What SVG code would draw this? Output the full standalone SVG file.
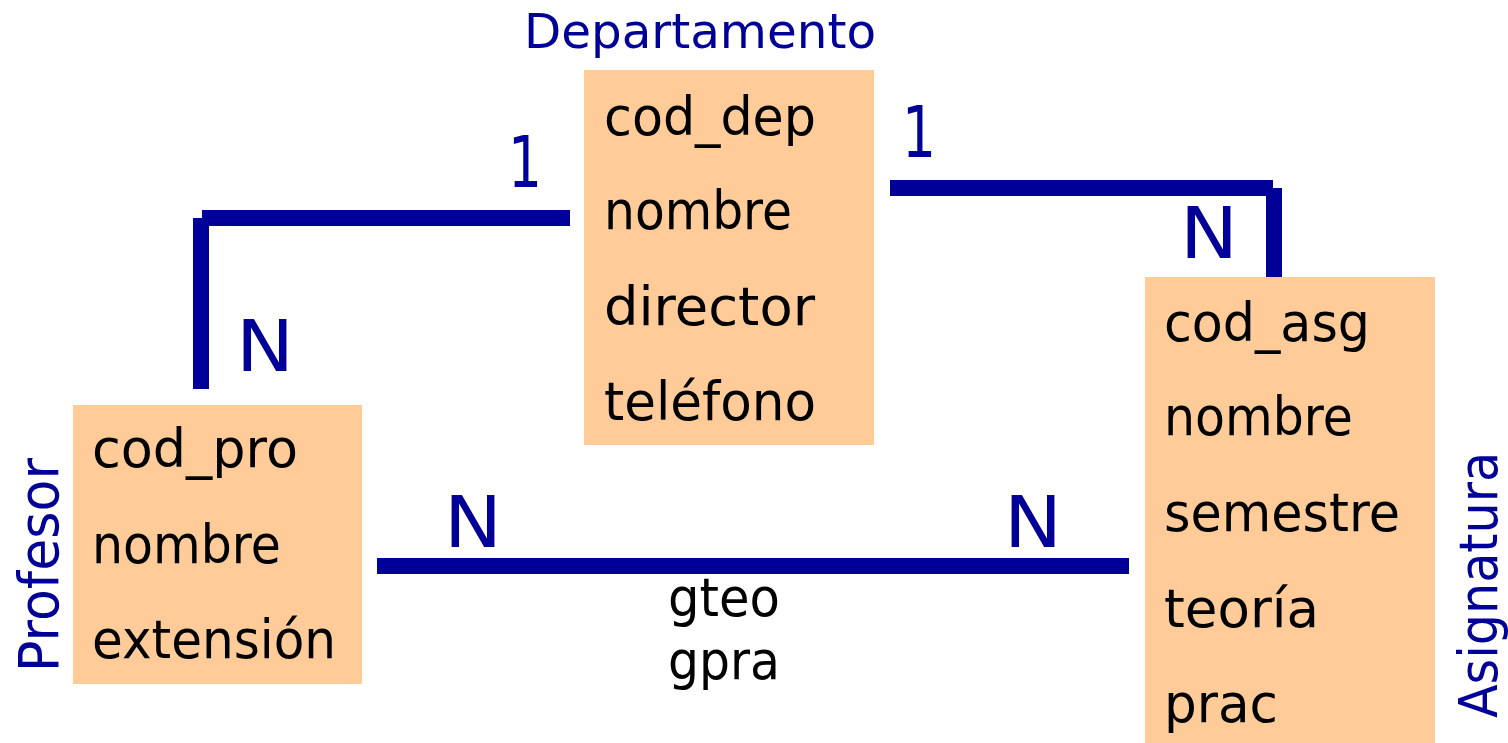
<svg xmlns="http://www.w3.org/2000/svg" width="1508" height="743" viewBox="0 0 1508 743">
<style>
.box{fill:#FFCC99}
.attr{font-family:"DejaVu Sans",sans-serif;font-size:53px;fill:#000}
.title{font-family:"DejaVu Sans",sans-serif;fill:#000099}
.card{font-family:"DejaVu Sans",sans-serif;font-size:72px;fill:#000099}
.conn{fill:#000099}
</style>
<rect width="1508" height="743" fill="#fff"/>
<g id="connectors">
<rect class="conn" x="202" y="210" width="368" height="16"/>
<rect class="conn" x="193" y="218" width="16" height="171"/>
<rect class="conn" x="890" y="180" width="383" height="16"/>
<rect class="conn" x="1266" y="188" width="16" height="89"/>
<rect class="conn" x="377" y="558" width="752" height="16"/>
<text class="card" x="508" y="187" textLength="34" lengthAdjust="spacingAndGlyphs">1</text>
<text class="card" x="236" y="371" textLength="58" lengthAdjust="spacingAndGlyphs">N</text>
<text class="card" x="902" y="157" textLength="34" lengthAdjust="spacingAndGlyphs">1</text>
<text class="card" x="1180" y="258" textLength="58" lengthAdjust="spacingAndGlyphs">N</text>
<text class="card" x="444" y="547" textLength="58" lengthAdjust="spacingAndGlyphs">N</text>
<text class="card" x="1004" y="547" textLength="58" lengthAdjust="spacingAndGlyphs">N</text>
<text class="attr" x="668" y="616" textLength="112" lengthAdjust="spacingAndGlyphs">gteo</text>
<text class="attr" x="668" y="679" textLength="112" lengthAdjust="spacingAndGlyphs">gpra</text>
</g>
<g id="departamento">
<rect class="box" x="584" y="70" width="290" height="375"/>
<text class="title" x="524" y="48" font-size="48" textLength="352" lengthAdjust="spacingAndGlyphs">Departamento</text>
<text class="attr" x="604" y="135" textLength="212" lengthAdjust="spacingAndGlyphs">cod_dep</text>
<text class="attr" x="604" y="229" textLength="188" lengthAdjust="spacingAndGlyphs">nombre</text>
<text class="attr" x="604" y="325" textLength="211" lengthAdjust="spacingAndGlyphs">director</text>
<text class="attr" x="604" y="420" textLength="212" lengthAdjust="spacingAndGlyphs">teléfono</text>
</g>
<g id="profesor">
<rect class="box" x="73" y="405" width="289" height="279"/>
<text class="title" transform="translate(58,672) rotate(-90)" font-size="55" textLength="214" lengthAdjust="spacingAndGlyphs">Profesor</text>
<text class="attr" x="92" y="467" textLength="206" lengthAdjust="spacingAndGlyphs">cod_pro</text>
<text class="attr" x="92" y="563" textLength="189" lengthAdjust="spacingAndGlyphs">nombre</text>
<text class="attr" x="92" y="658" textLength="244" lengthAdjust="spacingAndGlyphs">extensión</text>
</g>
<g id="asignatura">
<rect class="box" x="1145" y="277" width="290" height="466"/>
<text class="title" transform="translate(1497,718) rotate(-90)" font-size="54" textLength="266" lengthAdjust="spacingAndGlyphs">Asignatura</text>
<text class="attr" x="1164" y="341" textLength="206" lengthAdjust="spacingAndGlyphs">cod_asg</text>
<text class="attr" x="1164" y="435" textLength="189" lengthAdjust="spacingAndGlyphs">nombre</text>
<text class="attr" x="1164" y="531" textLength="236" lengthAdjust="spacingAndGlyphs">semestre</text>
<text class="attr" x="1164" y="627" textLength="155" lengthAdjust="spacingAndGlyphs">teoría</text>
<text class="attr" x="1164" y="722" textLength="114" lengthAdjust="spacingAndGlyphs">prac</text>
</g>
</svg>
